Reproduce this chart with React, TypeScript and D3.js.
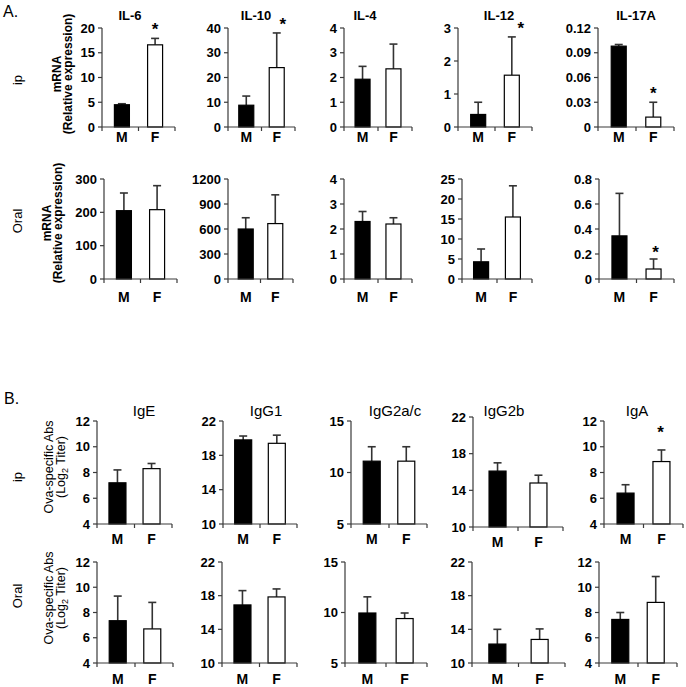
import React from "react";
import * as d3 from "d3";

// ---------- DATA ----------
const groups = ["M", "F"];

const cytokines = ["IL-6", "IL-10", "IL-4", "IL-12", "IL-17A"];
const cytIpMean = [[4.5, 16.6], [8.8, 24.0], [1.93, 2.35], [0.38, 1.57], [0.098, 0.012]];
const cytIpErr = [[0.2, 1.3], [3.7, 14.0], [0.52, 1.0], [0.37, 1.16], [0.002, 0.018]];
const cytIpSig = [[false, true], [false, true], [false, false], [false, true], [false, true]];
const cytIpTicks = [[0, 5, 10, 15, 20], [0, 10, 20, 30, 40], [0, 1, 2, 3, 4], [0, 1, 2, 3], [0, 0.03, 0.06, 0.09, 0.12]];

const cytOralMean = [[205, 208], [600, 665], [2.3, 2.2], [4.3, 15.5], [0.345, 0.08]];
const cytOralErr = [[53, 72], [135, 345], [0.4, 0.25], [3.2, 7.8], [0.34, 0.08]];
const cytOralSig = [[false, false], [false, false], [false, false], [false, false], [false, true]];
const cytOralTicks = [[0, 100, 200, 300], [0, 300, 600, 900, 1200], [0, 1, 2, 3, 4], [0, 5, 10, 15, 20, 25], [0, 0.2, 0.4, 0.6, 0.8]];

const antibodies = ["IgE", "IgG1", "IgG2a/c", "IgG2b", "IgA"];
const abIpMean = [[7.2, 8.3], [19.8, 19.4], [11.1, 11.1], [16.1, 14.8], [6.4, 8.85]];
const abIpErr = [[1.0, 0.4], [0.45, 0.95], [1.4, 1.4], [0.9, 0.85], [0.65, 0.9]];
const abIpSig = [[false, false], [false, false], [false, false], [false, false], [false, true]];
const abOralMean = [[7.35, 6.7], [16.9, 17.85], [9.95, 9.4], [12.25, 12.8], [7.45, 8.8]];
const abOralErr = [[1.95, 2.1], [1.7, 0.95], [1.6, 0.55], [1.75, 1.25], [0.55, 2.05]];
const abOralSig = [[false, false], [false, false], [false, false], [false, false], [false, false]];
const abTicks = [[4, 6, 8, 10, 12], [10, 14, 18, 22], [5, 10, 15], [10, 14, 18, 22], [4, 6, 8, 10, 12]];

// ---------- LAYOUT ----------
const FONT = "'Liberation Sans', Arial, Helvetica, sans-serif";
const A1 = { x0: [102, 228, 344, 458, 598], x1: [175, 295, 412, 532, 674], top: 28, bottom: 127, label: 142, titleX: [130, 256, 365, 499, 636], titleY: 19.5, starDx: [0, 6, 0, 9, 0] };
const A2 = { x0: [104, 228, 344, 462, 599], x1: [177, 293, 412, 532, 674], top: 179, bottom: 279, label: 302, starDx: [0, 0, 0, 0, 2] };
const B1 = { x0: [97, 223, 351, 473, 604], x1: [172, 297, 427, 563, 683], top: [421, 421, 421, 417, 421], bottom: [524, 524, 524, 527, 524], label: 544, titleX: [144, 266, 395, 504, 637], titleY: 416, starDx: [0, 0, 0, 0, -1] };
const B2 = { x0: [97, 222, 345, 472, 599], x1: [173, 297, 427, 565, 677], top: 562, bottom: 663, label: 684 };

type PanelProps = {
  x0: number; x1: number; top: number; bottom: number;
  ticks: number[]; means: number[]; errs: number[]; sig: boolean[];
  labelY: number; starGap: number; starDx?: number; barW: number;
  title?: string; titleX?: number; titleY?: number; titleWeight?: string; titleSize?: number;
};

function Panel(p: PanelProps) {
  const y = d3.scaleLinear().domain([p.ticks[0], p.ticks[p.ticks.length - 1]]).range([p.bottom, p.top]);
  const x = d3.scalePoint().domain(groups).range([p.x0, p.x1]).padding(0.6);
  const bw = p.barW;
  const axisColor = "#3a3a3a";
  const mid = (p.x0 + p.x1) / 2;
  return (
    <g>
      {p.title && (
        <text x={p.titleX} y={p.titleY} textAnchor="middle" fontSize={p.titleSize || 13} fontWeight={p.titleWeight || "bold"} fill="#000">{p.title}</text>
      )}
      {groups.map((g, i) => {
        const cx = x(g) as number;
        const yt = y(p.means[i]);
        const ye = y(p.means[i] + p.errs[i]);
        return (
          <g key={g}>
            <line x1={cx} x2={cx} y1={yt} y2={ye} stroke="#333" strokeWidth={1.6} />
            <line x1={cx - 4} x2={cx + 4} y1={ye} y2={ye} stroke="#333" strokeWidth={1.6} />
            <rect x={cx - bw / 2} y={yt} width={bw} height={p.bottom - yt} fill={i === 0 ? "#000" : "#fff"} stroke="#000" strokeWidth={1.2} />
            {p.sig[i] && (
              <text x={cx + (p.starDx || 0)} y={ye - p.starGap + 9} textAnchor="middle" fontSize={17} fontWeight="bold" fill="#000">*</text>
            )}
            <text x={cx} y={p.labelY} textAnchor="middle" fontSize={14} fontWeight="bold" fill="#000">{g}</text>
          </g>
        );
      })}
      <line x1={p.x0} x2={p.x0} y1={p.top} y2={p.bottom} stroke={axisColor} strokeWidth={1.2} />
      {p.ticks.map((t) => (
        <g key={t}>
          <line x1={p.x0 - 4} x2={p.x0} y1={y(t)} y2={y(t)} stroke={axisColor} strokeWidth={1.2} />
          <text x={p.x0 - 7} y={y(t)} dy="0.36em" textAnchor="end" fontSize={13} fontWeight="bold" fill="#000">{String(t)}</text>
        </g>
      ))}
      <line x1={p.x0} x2={p.x1} y1={p.bottom} y2={p.bottom} stroke={axisColor} strokeWidth={1.2} />
      {[p.x0, mid, p.x1].map((tx, k) => (
        <line key={k} x1={tx} x2={tx} y1={p.bottom} y2={p.bottom + 4} stroke={axisColor} strokeWidth={1.2} />
      ))}
    </g>
  );
}

function RotText({ x, y, children, size, weight }: { x: number; y: number; children: React.ReactNode; size: number; weight?: string }) {
  return (
    <text transform={`translate(${x},${y}) rotate(-90)`} textAnchor="middle" fontSize={size} fontWeight={weight || "normal"} fill="#000">{children}</text>
  );
}

export default function App() {
  return (
    <svg width={686} height={687} style={{ position: "absolute", left: 0, top: 0, background: "#fff" }} fontFamily={FONT}>
      <rect x={0} y={0} width={686} height={687} fill="#fff" />
      <text x={3} y={17} fontSize={16} fill="#000">A.</text>
      <text x={4} y={404} fontSize={16} fill="#000">B.</text>

      <RotText x={22} y={80} size={13}>ip</RotText>
      <RotText x={22} y={221} size={13}>Oral</RotText>
      <RotText x={22} y={477} size={13}>ip</RotText>
      <RotText x={22} y={596} size={13}>Oral</RotText>

      <RotText x={61} y={74} size={12} weight="bold">mRNA</RotText>
      <RotText x={72} y={74} size={12} weight="bold">(Relative expression)</RotText>
      <RotText x={51} y={223} size={12} weight="bold">mRNA</RotText>
      <RotText x={62} y={223} size={12} weight="bold">(Relative expression)</RotText>

      <RotText x={53} y={467} size={12.5}>Ova-specific Abs</RotText>
      <RotText x={65} y={467} size={12.5}>(Log<tspan fontSize={9} dy={3}>2</tspan><tspan dy={-3}> Titer)</tspan></RotText>
      <RotText x={53} y={598} size={12.5}>Ova-specific Abs</RotText>
      <RotText x={65} y={598} size={12.5}>(Log<tspan fontSize={9} dy={3}>2</tspan><tspan dy={-3}> Titer)</tspan></RotText>

      {cytokines.map((c, i) => (
        <Panel key={"a1" + c} x0={A1.x0[i]} x1={A1.x1[i]} top={A1.top} bottom={A1.bottom}
          ticks={cytIpTicks[i]} means={cytIpMean[i]} errs={cytIpErr[i]} sig={cytIpSig[i]}
          labelY={A1.label} starGap={12} starDx={A1.starDx[i]} barW={15}
          title={c} titleX={A1.titleX[i]} titleY={A1.titleY} />
      ))}
      {cytokines.map((c, i) => (
        <Panel key={"a2" + c} x0={A2.x0[i]} x1={A2.x1[i]} top={A2.top} bottom={A2.bottom}
          ticks={cytOralTicks[i]} means={cytOralMean[i]} errs={cytOralErr[i]} sig={cytOralSig[i]}
          labelY={A2.label} starGap={10} starDx={A2.starDx[i]} barW={15} />
      ))}
      {antibodies.map((c, i) => (
        <Panel key={"b1" + c} x0={B1.x0[i]} x1={B1.x1[i]} top={B1.top[i]} bottom={B1.bottom[i]}
          ticks={abTicks[i]} means={abIpMean[i]} errs={abIpErr[i]} sig={abIpSig[i]}
          labelY={B1.label + (B1.bottom[i] - 524)} starGap={21} starDx={B1.starDx[i]} barW={17}
          title={c} titleX={B1.titleX[i]} titleY={B1.titleY} titleWeight="normal" titleSize={15} />
      ))}
      {antibodies.map((c, i) => (
        <Panel key={"b2" + c} x0={B2.x0[i]} x1={B2.x1[i]} top={B2.top} bottom={B2.bottom}
          ticks={abTicks[i]} means={abOralMean[i]} errs={abOralErr[i]} sig={abOralSig[i]}
          labelY={B2.label} starGap={10} barW={17} />
      ))}
    </svg>
  );
}
